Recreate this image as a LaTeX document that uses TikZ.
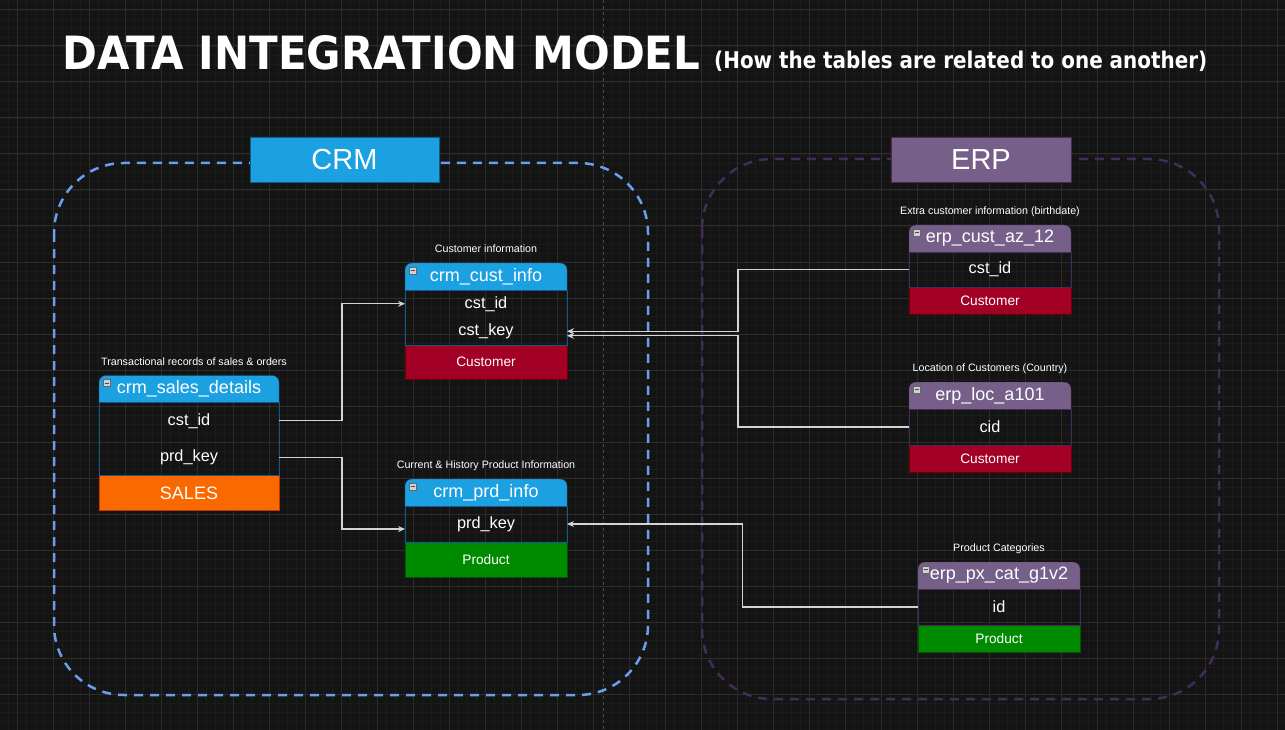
\documentclass[tikz,border=0pt]{standalone}
\usepackage{fontspec}
\setmainfont{Liberation Sans}
\newfontfamily\titlefont{DejaVu Sans}
\usepackage{graphicx}
\usepackage{tikz}
\usetikzlibrary{arrows.meta,positioning}
\definecolor{canvas}{HTML}{141414}
\definecolor{gridminor}{HTML}{1B1B1B}
\definecolor{gridmajor}{HTML}{2C2C2C}
\definecolor{pagesep}{HTML}{474747}
\definecolor{crmblue}{HTML}{1BA1E2}
\definecolor{crmline}{HTML}{0E5C8C}
\definecolor{erppurple}{HTML}{76608A}
\definecolor{erpline}{HTML}{432D57}
\definecolor{custred}{HTML}{A20025}
\definecolor{custredline}{HTML}{6F0000}
\definecolor{salesorange}{HTML}{FA6800}
\definecolor{salesline}{HTML}{C73500}
\definecolor{prodgreen}{HTML}{008A00}
\definecolor{prodline}{HTML}{005700}
\definecolor{crmdash}{HTML}{6C9EF0}
\definecolor{linkgrey}{HTML}{D4D4D4}
\newcommand{\px}[1]{\fontsize{#1}{#1}\selectfont}

\begin{document}
\begin{tikzpicture}[x=1pt,y=-1pt,
    hd/.style 2 args={minimum width=#1,minimum height=27pt,inner sep=0pt,outer sep=0pt,
      text=white,font=\px{18pt},
      path picture={\draw[fill=#2,draw=#2!60!black,rounded corners=7pt]
        (path picture bounding box.south west) -- (path picture bounding box.north west)
        -- (path picture bounding box.north east) -- (path picture bounding box.south east);}},
    fld/.style 2 args={minimum width=#1,minimum height=#2,inner sep=0pt,outer sep=0pt,
      text=white,font=\px{16.3pt}},
    tag/.style n args={4}{minimum width=#1,minimum height=#2,fill=#3,draw=#4,
      inner sep=0pt,outer sep=0pt,text=white,font=\px{13.7pt}},
    note/.style={text=white,font=\px{10.7pt},inner sep=0pt,text height=7.7pt,text depth=2.3pt},
    fold/.style={draw=black!60,fill=black!18,minimum size=7pt,inner sep=0pt,
      path picture={\draw[black!70,line width=1pt]
        ([xshift=1.5pt]path picture bounding box.west) -- ([xshift=-1.5pt]path picture bounding box.east);}},
    sys/.style={minimum width=189pt,minimum height=45pt,inner sep=0pt,text=white,font=\px{29pt}},
    link/.style={draw=linkgrey,line width=1.2pt,-{Stealth[length=7pt,width=6pt]}}]
\useasboundingbox (0,0) rectangle (1285,730);

% canvas grid
\fill[canvas] (0,0) rectangle (1285,730);
\foreach \gx in {8,17,...,1285} \draw[gridminor,line width=0.8pt] (\gx,0) -- (\gx,730);
\foreach \gy in {1,10,...,730} \draw[gridminor,line width=0.8pt] (0,\gy) -- (1285,\gy);
\foreach \gx in {17,53,...,1285} \draw[gridmajor,line width=1pt] (\gx,0) -- (\gx,730);
\foreach \gy in {10,46,...,730} \draw[gridmajor,line width=1pt] (0,\gy) -- (1285,\gy);
\draw[pagesep,line width=0.8pt,dash pattern=on 3pt off 3pt] (603,0) -- (603,730);

% title
\node[anchor=base west,inner sep=0pt,text=white] (title) at (62,69.5)
  {\resizebox{638pt}{34pt}{\titlefont\bfseries DATA INTEGRATION MODEL}};
\node[anchor=base west,inner sep=0pt,text=white] (subtitle) at (714,68.5)
  {\resizebox{493pt}{17.5pt}{\titlefont\bfseries (How the tables are related to one another)}};

% source systems
\draw[crmdash,line width=2.5pt,dash pattern=on 9pt off 7pt,rounded corners=70pt] (54,163) rectangle (648,695);
\draw[erpline,line width=2.5pt,dash pattern=on 9pt off 7pt,rounded corners=70pt] (702,159) rectangle (1219,699);
\node[sys,fill=crmblue,draw=crmline] (crm) at (344.5,160) {CRM};
\node[sys,fill=erppurple,draw=erpline,minimum width=180pt] (erp) at (981,159.5) {ERP};

% crm tables
\node[hd={162pt}{crmblue}] (cust) at (486,276.5) {crm\_cust\_info};
\node[fld={162pt}{27.5pt},below=0pt of cust] (custid) {cst\_id};
\node[fld={162pt}{27.5pt},below=0pt of custid] (custkey) {cst\_key};
\node[tag={162pt}{34pt}{custred}{custredline},below=0pt of custkey] (custtag) {Customer};
\draw[crmline] (cust.south west) rectangle (custtag.north east);
\node[fold] (custfold) at ([xshift=7.5pt,yshift=-7.5pt]cust.north west) {};
\node[note,above=7.8pt of cust] (custnote) {Customer information};

\node[hd={180pt}{crmblue}] (sales) at (189,389) {crm\_sales\_details};
\node[fld={180pt}{36.5pt},below=0pt of sales] (salescst) {cst\_id};
\node[fld={180pt}{36.5pt},below=0pt of salescst] (salesprd) {prd\_key};
\node[tag={180pt}{35pt}{salesorange}{salesline},below=0pt of salesprd,font=\px{18pt}] (salestag) {SALES};
\draw[crmline] (sales.south west) rectangle (salestag.north east);
\node[fold] (salesfold) at ([xshift=7.5pt,yshift=-7.5pt]sales.north west) {};
\node[note,above=7.8pt of sales,xshift=5pt] (salesnote) {Transactional records of sales \& orders};

\node[hd={162pt}{crmblue}] (prd) at (486,492.5) {crm\_prd\_info};
\node[fld={162pt}{36pt},below=0pt of prd] (prdkey) {prd\_key};
\node[tag={162pt}{35pt}{prodgreen}{prodline},below=0pt of prdkey] (prdtag) {Product};
\draw[crmline] (prd.south west) rectangle (prdtag.north east);
\node[fold] (prdfold) at ([xshift=7.5pt,yshift=-7.5pt]prd.north west) {};
\node[note,above=7.8pt of prd] (prdnote) {Current \& History Product Information};

% erp tables
\node[hd={162pt}{erppurple}] (az) at (990,238.5) {erp\_cust\_az\_12};
\node[fld={162pt}{35pt},below=0pt of az] (azcst) {cst\_id};
\node[tag={162pt}{27pt}{custred}{custredline},below=0pt of azcst] (aztag) {Customer};
\draw[erpline] (az.south west) rectangle (aztag.north east);
\node[fold] (azfold) at ([xshift=7.5pt,yshift=-7.5pt]az.north west) {};
\node[note,above=7.8pt of az] (aznote) {Extra customer information (birthdate)};

\node[hd={162pt}{erppurple}] (loc) at (990,395.5) {erp\_loc\_a101};
\node[fld={162pt}{36pt},below=0pt of loc] (loccid) {cid};
\node[tag={162pt}{27pt}{custred}{custredline},below=0pt of loccid] (loctag) {Customer};
\draw[erpline] (loc.south west) rectangle (loctag.north east);
\node[fold] (locfold) at ([xshift=7.5pt,yshift=-7.5pt]loc.north west) {};
\node[note,above=7.8pt of loc] (locnote) {Location of Customers (Country)};

\node[hd={162pt}{erppurple}] (px) at (999,575.5) {erp\_px\_cat\_g1v2};
\node[fld={162pt}{36pt},below=0pt of px] (pxid) {id};
\node[tag={162pt}{27pt}{prodgreen}{prodline},below=0pt of pxid] (pxtag) {Product};
\draw[erpline] (px.south west) rectangle (pxtag.north east);
\node[fold] (pxfold) at ([xshift=7.5pt,yshift=-7.5pt]px.north west) {};
\node[note,above=7.8pt of px] (pxnote) {Product Categories};

% relations
\draw[link] (salescst.east) -- ++(63,0) |- (custid.west);
\draw[link] (salesprd.east) -- ++(63,0) |- ([yshift=-5pt]prdkey.west);
\draw[link] (azcst.west) -- ++(-171,0) |- (custkey.east);
\draw[link] (loccid.west) -- ++(-171,0) |- ([yshift=-4.5pt]custkey.east);
\draw[link] (pxid.west) -- ++(-175.5,0) |- (prdkey.east);
\end{tikzpicture}
\end{document}
